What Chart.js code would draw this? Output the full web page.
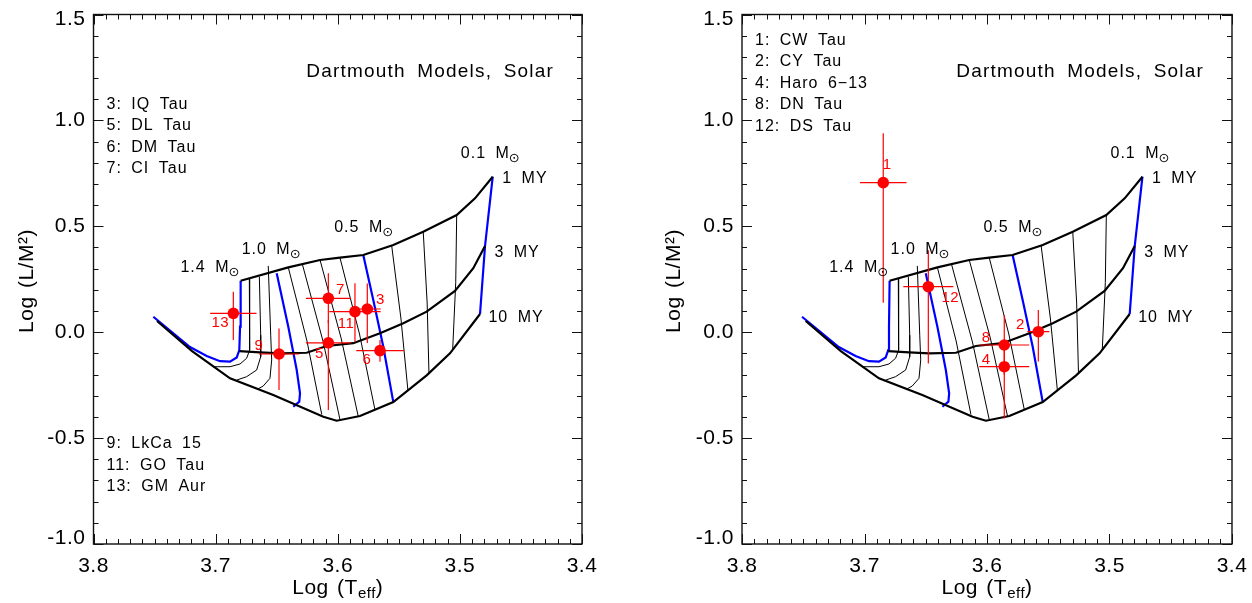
<!DOCTYPE html>
<html>
<head>
<meta charset="utf-8">
<script src="https://cdn.jsdelivr.net/npm/chart.js@4.4.1/dist/chart.umd.min.js"></script>
<style>
  body { margin: 0; background: #fff; }
  canvas { position: absolute; top: 0; }
</style>
</head>
<body>
<canvas id="leftChart" width="626" height="603" style="left:0"></canvas>
<canvas id="rightChart" width="626" height="603" style="left:626px"></canvas>
<script>
// Axis ticks
const xTicks = [3.8, 3.7, 3.6, 3.5, 3.4];
const yTicks = [-1.0, -0.5, 0.0, 0.5, 1.0, 1.5];

// Isochrones [log Teff, log L/M^2]
const iso1My = [[3.6795, 0.243], [3.6405, 0.306], [3.6145, 0.341], [3.5982, 0.352], [3.5791, 0.3645],
  [3.5545, 0.412], [3.530, 0.4745], [3.5026, 0.553], [3.4876, 0.632], [3.4731, 0.734]];
const iso3My = [[3.6806, -0.089], [3.6637, -0.095], [3.6473, -0.100], [3.6254, -0.097], [3.6091, -0.065],
  [3.5873, -0.052], [3.5654, -0.005], [3.5463, 0.042], [3.5272, 0.097], [3.504, 0.195], [3.489, 0.302], [3.4794, 0.407]];
const iso10My = [[3.748, 0.053], [3.7193, -0.089], [3.6882, -0.2177], [3.6528, -0.2965], [3.6118, -0.399],
  [3.6009, -0.418], [3.5818, -0.3957], [3.5545, -0.330], [3.5272, -0.204], [3.5081, -0.0996], [3.4835, 0.086]];

// Mass tracks (blue: 1.4, 1.0, 0.5, 0.1 Msun)
const m14 = [[3.751, 0.073], [3.721, -0.070], [3.7073, -0.112], [3.6964, -0.137], [3.6882, -0.139],
  [3.6827, -0.119], [3.6806, -0.084], [3.680, 0.026], [3.6795, 0.243]];
const m13 = [[3.6724, 0.2545], [3.6719, -0.014], [3.6724, -0.084], [3.6746, -0.123], [3.680, -0.150], [3.6882, -0.163], [3.7019, -0.163]];
const m12 = [[3.6642, 0.262], [3.6631, -0.014], [3.6631, -0.116], [3.6664, -0.1785], [3.6746, -0.210], [3.6827, -0.226]];
const m11 = [[3.6569, 0.313], [3.6549, -0.014], [3.6541, -0.131], [3.6555, -0.2177], [3.661, -0.254], [3.6653, -0.268]];
const m10 = [[3.650, 0.278], [3.6405, 0.026], [3.6336, -0.1785], [3.6309, -0.2885], [3.6315, -0.328], [3.6364, -0.352]];
const m09 = [[3.6405, 0.306], [3.6252, -0.0415], [3.6131, -0.3886]];
const m08 = [[3.629, 0.3215], [3.6119, -0.046], [3.5982, -0.412]];
const m07 = [[3.6145, 0.341], [3.5973, -0.027], [3.5832, -0.398]];
const m06 = [[3.5982, 0.352], [3.5822, -0.0085], [3.5695, -0.367]];
const m05 = [[3.5791, 0.3645], [3.5709, 0.152], [3.5627, -0.0685], [3.5545, -0.330]];
const m04 = [[3.5558, 0.407], [3.5483, 0.067], [3.5425, -0.2776]];
const m03 = [[3.530, 0.4745], [3.5268, 0.138], [3.5253, -0.197]];
const m02 = [[3.5026, 0.553], [3.5034, 0.235], [3.5059, -0.084]];
const m01 = [[3.4731, 0.734], [3.4794, 0.407], [3.4835, 0.086]];

// Stars, left panel
const leftIds = ['13', '9', '5', '7', '11', '3', '6'];
const leftTeff = [3.6855, 3.6481, 3.6077, 3.6077, 3.5859, 3.5758, 3.5654];
const leftLum = [0.089, -0.103, -0.050, 0.160, 0.097, 0.1095, -0.087];
const leftTeffErr = [0.019, 0.0165, 0.0184, 0.0184, 0.021, 0.011, 0.0194];
const leftLumUp = [0.102, 0.121, 0.108, 0.118, 0.134, 0.12, 0.05];
const leftLumDown = [0.126, 0.170, 0.317, 0.118, 0.142, 0.16, 0.052];

// Stars, right panel
const rightIds = ['1', '2', '4', '8', '12'];
const rightTeff = [3.6847, 3.5581, 3.5859, 3.5859, 3.6479];
const rightLum = [0.706, 0.0024, -0.163, -0.0604, 0.2148];
const rightTeffErr = [0.019, 0.009, 0.0204, 0.0204, 0.0204];
const rightLumUp = [0.233, 0.103, 0.10, 0.141, 0.172];
const rightLumDown = [0.567, 0.141, 0.244, 0.14, 0.362];

const leftLegendTop = ['3: IQ Tau', '5: DL Tau', '6: DM Tau', '7: CI Tau'];
const leftLegendBottom = ['9: LkCa 15', '11: GO Tau', '13: GM Aur'];
const rightLegendTop = ['1: CW Tau', '2: CY Tau', '4: Haro 6\u221213', '8: DN Tau', '12: DS Tau'];

// Track labels: [text, logTeff, logL, has sun symbol]
const trackLabels = [
  ['1.4 M', 3.7288, 0.307, true],
  ['1.0 M', 3.6787, 0.392, true],
  ['0.5 M', 3.6029, 0.496, true],
  ['0.1 M', 3.4992, 0.843, true],
  ['1 MY', 3.4653, 0.725, false],
  ['3 MY', 3.4717, 0.374, false],
  ['10 MY', 3.4766, 0.071, false]
];

const FONT = '"Liberation Sans", Arial, Helvetica, sans-serif';
const RED = '#ff0000';
const BLUE = '#0000ff';

function lineSet(pts, color, width) {
  return {
    data: pts.map(p => ({ x: p[0], y: p[1] })),
    showLine: true, borderColor: color, borderWidth: width,
    pointRadius: 0, tension: 0, fill: false, order: 3
  };
}

function gridSets() {
  const sets = [];
  [m13, m12, m11, m09, m08, m07, m06, m04, m03, m02].forEach(t => sets.push(lineSet(t, '#000', 1)));
  [iso1My, iso3My, iso10My].forEach(t => sets.push(lineSet(t, '#000', 2.2)));
  [m14, m10, m05, m01].forEach(t => sets.push(lineSet(t, BLUE, 2.2)));
  return sets;
}

function starSets(teff, lum, ex, up, dn) {
  const sets = [{
    data: teff.map((t, i) => ({ x: t, y: lum[i] })),
    pointRadius: 5.8, pointBackgroundColor: RED, pointBorderWidth: 0,
    showLine: false, order: 0
  }];
  teff.forEach((t, i) => {
    sets.push({
      data: [{ x: t - ex[i], y: lum[i] }, { x: t + ex[i], y: lum[i] }],
      showLine: true, borderColor: RED, borderWidth: 1.2, pointRadius: 0, order: 1
    });
    sets.push({
      data: [{ x: t, y: lum[i] - dn[i] }, { x: t, y: lum[i] + up[i] }],
      showLine: true, borderColor: RED, borderWidth: 1.2, pointRadius: 0, order: 1
    });
  });
  return sets;
}

function spaced(ctx, ls, ws) {
  ctx.letterSpacing = ls + 'px';
  ctx.wordSpacing = ws + 'px';
}

// Frame, inward ticks, labels and annotations
const framePlugin = {
  id: 'frame',
  afterDraw(chart) {
    const { ctx, chartArea: a, scales: { x, y } } = chart;
    const cfg = chart.options.plugins.frame;
    ctx.save();

    ctx.strokeStyle = '#111';
    ctx.lineWidth = 1.4;
    ctx.strokeRect(a.left, a.top, a.right - a.left, a.bottom - a.top);

    ctx.lineWidth = 1;
    ctx.beginPath();
    for (let k = 0; k <= 40; k++) {
      const px = Math.round(x.getPixelForValue(3.4 + k * 0.01)) + 0.5;
      const len = k % 10 === 0 ? 10 : 5;
      ctx.moveTo(px, a.bottom); ctx.lineTo(px, a.bottom - len);
      ctx.moveTo(px, a.top); ctx.lineTo(px, a.top + len);
    }
    for (let k = 0; k <= 25; k++) {
      const py = Math.round(y.getPixelForValue(-1 + k * 0.1)) + 0.5;
      const len = k % 5 === 0 ? 10 : 5;
      ctx.moveTo(a.left, py); ctx.lineTo(a.left + len, py);
      ctx.moveTo(a.right, py); ctx.lineTo(a.right - len, py);
    }
    ctx.stroke();

    // tick labels
    ctx.fillStyle = '#000';
    ctx.font = '21px ' + FONT;
    spaced(ctx, 0.5, 0);
    ctx.textBaseline = 'middle';
    ctx.textAlign = 'center';
    xTicks.forEach(v => ctx.fillText(v.toFixed(1), x.getPixelForValue(v), a.bottom + 22));
    ctx.textAlign = 'right';
    yTicks.forEach((v, i) => {
      let py = y.getPixelForValue(v);
      if (i === 0) py -= 6;
      if (i === yTicks.length - 1) py += 5;
      ctx.fillText(v.toFixed(1), a.left - 8, py);
    });

    // axis titles
    ctx.font = '21px ' + FONT;
    spaced(ctx, 0.5, 2);
    ctx.save();
    ctx.translate(cfg.yTitleX, 281);
    ctx.rotate(-Math.PI / 2);
    ctx.textAlign = 'center';
    ctx.fillText('Log (L/M\u00b2)', 0, 0);
    ctx.restore();

    ctx.textAlign = 'left';
    const main = 'Log (T', sub = 'eff';
    ctx.font = '21px ' + FONT;
    const w1 = ctx.measureText(main).width, w3 = ctx.measureText(')').width;
    ctx.font = '15px ' + FONT;
    const w2 = ctx.measureText(sub).width;
    let tx = (a.left + a.right) / 2 - (w1 + w2 + w3) / 2;
    const ty = 588;
    ctx.font = '21px ' + FONT;
    ctx.fillText(main, tx, ty);
    ctx.font = '15px ' + FONT;
    ctx.fillText(sub, tx + w1, ty + 6);
    ctx.font = '21px ' + FONT;
    ctx.fillText(')', tx + w1 + w2, ty);

    // model title
    ctx.font = '19px ' + FONT;
    spaced(ctx, 1.2, 5);
    ctx.textAlign = 'right';
    ctx.fillText('Dartmouth Models, Solar', a.right - 28, 72);

    // track labels
    spaced(ctx, 1, 4);
    ctx.textAlign = 'left';
    trackLabels.forEach(([txt, t, l, sun]) => {
      const px = x.getPixelForValue(t), py = y.getPixelForValue(l);
      ctx.font = '16px ' + FONT;
      ctx.fillText(txt, px, py);
      if (sun) {
        const w = ctx.measureText(txt).width;
        ctx.font = '13px "DejaVu Sans", sans-serif';
        ctx.fillText('\u2299', px + w - 1, py + 5);
      }
    });

    // legends
    ctx.font = '16px ' + FONT;
    cfg.legends.forEach(g => {
      g.lines.forEach((txt, i) => ctx.fillText(txt, a.left + 13, g.top + i * 21.4));
    });

    // star numbers
    ctx.fillStyle = RED;
    ctx.font = '15px ' + FONT;
    spaced(ctx, 0.5, 0);
    ctx.textAlign = 'center';
    cfg.ids.forEach((id, i) => {
      const px = x.getPixelForValue(cfg.teff[i]), py = y.getPixelForValue(cfg.lum[i]);
      const off = cfg.offsets[i];
      ctx.fillText(id, px + off[0], py + off[1]);
    });

    ctx.restore();
  }
};

function makeChart(id, padding, stars, extra) {
  const datasets = starSets(stars.teff, stars.lum, stars.ex, stars.up, stars.dn).concat(gridSets());
  return new Chart(document.getElementById(id), {
    type: 'scatter',
    data: { datasets },
    options: {
      responsive: false,
      animation: false,
      events: [],
      layout: { padding },
      scales: {
        x: { type: 'linear', min: 3.4, max: 3.8, reverse: true, display: false },
        y: { type: 'linear', min: -1.0, max: 1.5, display: false }
      },
      plugins: {
        legend: { display: false },
        tooltip: { enabled: false },
        frame: Object.assign({ ids: stars.ids, teff: stars.teff, lum: stars.lum }, extra)
      }
    },
    plugins: [framePlugin]
  });
}

makeChart('leftChart', { left: 93.5, right: 44, top: 14.5, bottom: 59 },
  { ids: leftIds, teff: leftTeff, lum: leftLum, ex: leftTeffErr, up: leftLumUp, dn: leftLumDown },
  {
    yTitleX: 27,
    offsets: [[-13, 10], [-20, -8], [-9, 11], [12, -8], [-9, 12], [13, -9], [-13, 9]],
    legends: [{ lines: leftLegendTop, top: 104.5 }, { lines: leftLegendBottom, top: 444 }]
  });

makeChart('rightChart', { left: 116, right: 20, top: 14.5, bottom: 59 },
  { ids: rightIds, teff: rightTeff, lum: rightLum, ex: rightTeffErr, up: rightLumUp, dn: rightLumDown },
  {
    yTitleX: 48,
    offsets: [[4, -18], [-18, -7], [-18, -7], [-18, -7], [22, 11]],
    legends: [{ lines: rightLegendTop, top: 40.5 }]
  });
</script>
</body>
</html>
